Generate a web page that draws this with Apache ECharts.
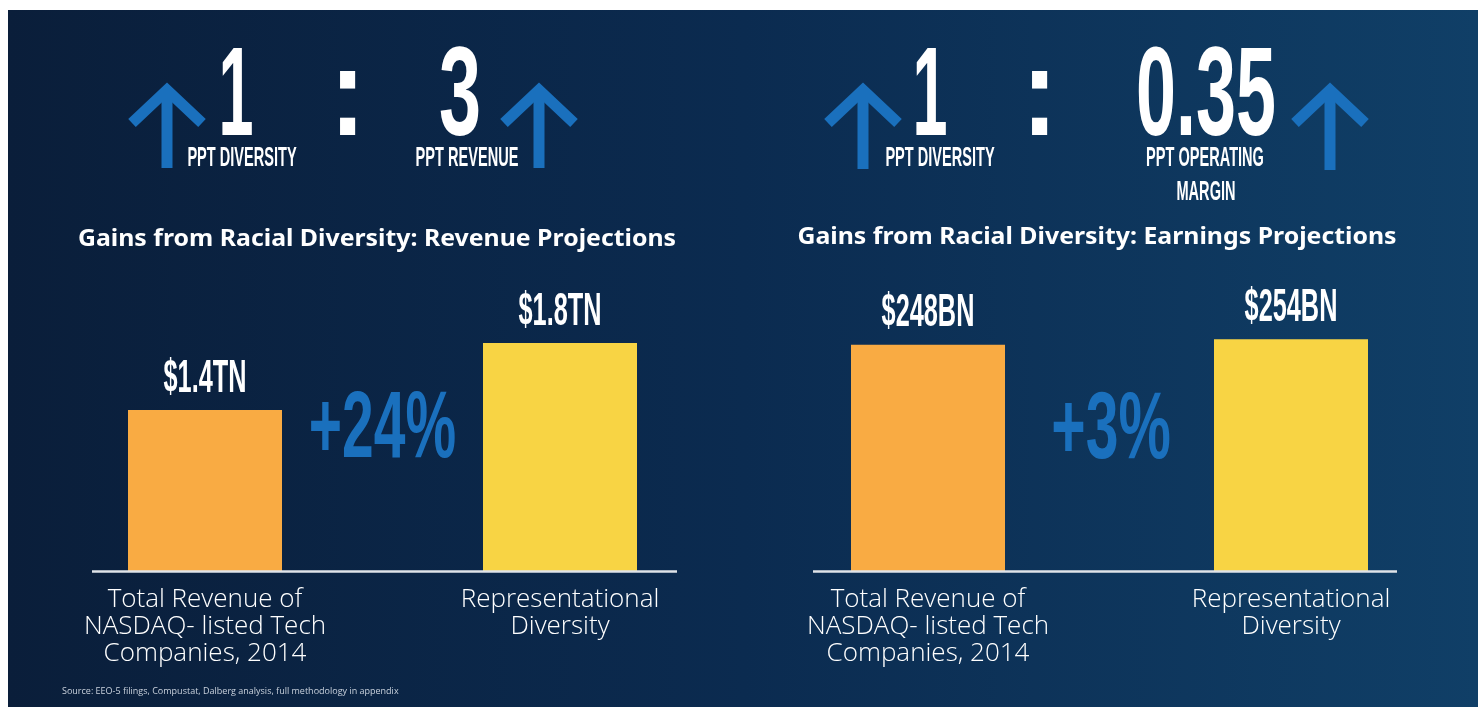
<!DOCTYPE html>
<html>
<head>
<meta charset="utf-8">
<script src="https://cdn.jsdelivr.net/npm/echarts@6/dist/echarts.min.js"></script>
<style>html,body{margin:0;padding:0;background:#fff}#c{width:1478px;height:707px}</style>
</head>
<body>
<div id="c"></div>
<script>
// ---- data ----
const categories = ['Total Revenue of\nNASDAQ- listed Tech\nCompanies, 2014', 'Representational\nDiversity'];
const revenueValues = [1.4, 1.8];      // $ trillion
const earningsValues = [248, 254];     // $ billion
const revenueGain = '+24%';
const earningsGain = '+3%';
const leftTitle = 'Gains from Racial Diversity: Revenue Projections';
const rightTitle = 'Gains from Racial Diversity: Earnings Projections';
const leftRatio = ['1', ':', '3'];
const rightRatio = ['1', ':', '0.35'];
const leftRatioLabels = ['PPT DIVERSITY', 'PPT REVENUE'];
const rightRatioLabels = ['PPT DIVERSITY', 'PPT OPERATING', 'MARGIN'];
const sourceNote = 'Source: EEO-5 filings, Compustat, Dalberg analysis, full methodology in appendix';

// ---- styles ----
const barColors = ['#f9ab43', '#f8d444'];
const BLUE = '#1a70bd';
const COND = '"Liberation Sans", Arial, sans-serif';
const LIGHT = '"Open Sans", "Noto Sans", sans-serif';

const chart = echarts.init(document.getElementById('c'));

function condText(txt, x, y, size, sx, color, align) {
  return {
    type: 'text', x: x, y: y, scaleX: sx, z: 5,
    style: {
      text: txt, fill: color || '#fff',
      font: 'bold ' + size + 'px ' + COND,
      align: align || 'center', verticalAlign: 'middle'
    }
  };
}
function titleText(txt, x, y) {
  return { type: 'text', x: x, y: y, scaleX: 1.08, z: 5,
    style: { text: txt, fill: '#fff', font: 'bold 23px "Noto Sans", sans-serif', align: 'center', verticalAlign: 'middle' } };
}
function arrow(cx, top, bottom) {
  return [
    { type: 'polyline', z: 5, shape: { points: [[cx - 35, top + 33], [cx, top], [cx + 35, top + 33]] },
      style: { stroke: BLUE, lineWidth: 11, fill: null, lineJoin: 'miter', lineCap: 'butt' } },
    { type: 'line', z: 5, shape: { x1: cx, y1: top + 2, x2: cx, y2: bottom },
      style: { stroke: BLUE, lineWidth: 11, lineCap: 'butt' } }
  ];
}
function labelSeries(xi, vals, fmt) {
  return {
    type: 'custom', xAxisIndex: xi, yAxisIndex: xi, z: 6,
    data: vals.map((v, i) => [i, v]),
    renderItem: function (params, api) {
      const p = api.coord([api.value(0), api.value(1)]);
      return {
        type: 'text', x: p[0], y: p[1] - 31, scaleX: 0.55,
        style: { text: fmt(api.value(1)), fill: '#fff', font: 'bold 46px ' + COND,
                 align: 'center', verticalAlign: 'middle' }
      };
    }
  };
}

const graphics = [
  { type: 'rect', z: -10, shape: { x: 8, y: 10, width: 1470, height: 697 },
    style: { fill: new echarts.graphic.LinearGradient(0, 0, 1, 0, [
      { offset: 0, color: '#0a1e3a' }, { offset: 0.5, color: '#0b2b50' }, { offset: 1, color: '#103f67' }]) } },
  // baselines
  { type: 'line', z: 4, shape: { x1: 92, y1: 571.5, x2: 677, y2: 571.5 }, style: { stroke: '#dfe3e8', lineWidth: 2.5 } },
  { type: 'line', z: 4, shape: { x1: 813, y1: 571.5, x2: 1397, y2: 571.5 }, style: { stroke: '#dfe3e8', lineWidth: 2.5 } },
  // titles
  titleText(leftTitle, 377, 239),
  titleText(rightTitle, 1097, 237),
  // ratios
  condText(leftRatio[0], 236, 100, 126, 0.5),
  condText(leftRatio[1], 347.5, 100, 126, 0.85),
  condText(leftRatio[2], 460, 100, 126, 0.6),
  condText(leftRatioLabels[0], 242, 158, 28, 0.52),
  condText(leftRatioLabels[1], 467, 158, 28, 0.52),
  condText(rightRatio[0], 930, 100, 126, 0.5),
  condText(rightRatio[1], 1039.5, 100, 126, 0.85),
  condText(rightRatio[2], 1206, 100, 126, 0.57),
  condText(rightRatioLabels[0], 940, 158, 28, 0.52),
  condText(rightRatioLabels[1], 1205, 158, 28, 0.52),
  condText(rightRatioLabels[2], 1206, 192, 28, 0.52),
  // gains
  condText(revenueGain, 382.5, 431, 95, 0.6, BLUE),
  condText(earningsGain, 1111, 432, 95, 0.62, BLUE),
  // source
  { type: 'text', x: 62, y: 691, z: 5, style: { text: sourceNote, fill: '#c9d1dc', font: '9px "Open Sans", sans-serif', align: 'left', verticalAlign: 'middle' } }
].concat(arrow(167, 90, 168), arrow(539, 90, 168), arrow(863, 90, 169), arrow(1330, 90, 170));

const catAxis = (gi) => ({
  type: 'category', gridIndex: gi, data: categories,
  axisLine: { show: false }, axisTick: { show: false }, splitLine: { show: false },
  axisLabel: { interval: 0, margin: 15, color: '#fff', fontFamily: LIGHT, fontWeight: 300, fontSize: 26, lineHeight: 27 }
});

chart.setOption({
  backgroundColor: '#ffffff',
  animation: false,
  graphic: graphics,
  grid: [
    { left: 27.5, width: 710, top: 276, height: 295 },
    { left: 746.5, width: 726, top: 270, height: 301 }
  ],
  xAxis: [catAxis(0), catAxis(1)],
  yAxis: [
    { type: 'value', gridIndex: 0, min: 0.44, max: 2.2, show: false, splitLine: { show: false } },
    { type: 'value', gridIndex: 1, min: 0, max: 330, show: false, splitLine: { show: false } }
  ],
  series: [
    { type: 'bar', xAxisIndex: 0, yAxisIndex: 0, barWidth: 154, clip: true,
      data: revenueValues.map((v, i) => ({ value: v, itemStyle: { color: barColors[i] } })) },
    { type: 'bar', xAxisIndex: 1, yAxisIndex: 1, barWidth: 154, clip: true,
      data: earningsValues.map((v, i) => ({ value: v, itemStyle: { color: barColors[i] } })) },
    labelSeries(0, revenueValues, v => '$' + v.toFixed(1) + 'TN'),
    labelSeries(1, earningsValues, v => '$' + Math.round(v) + 'BN')
  ]
});
</script>
</body>
</html>
